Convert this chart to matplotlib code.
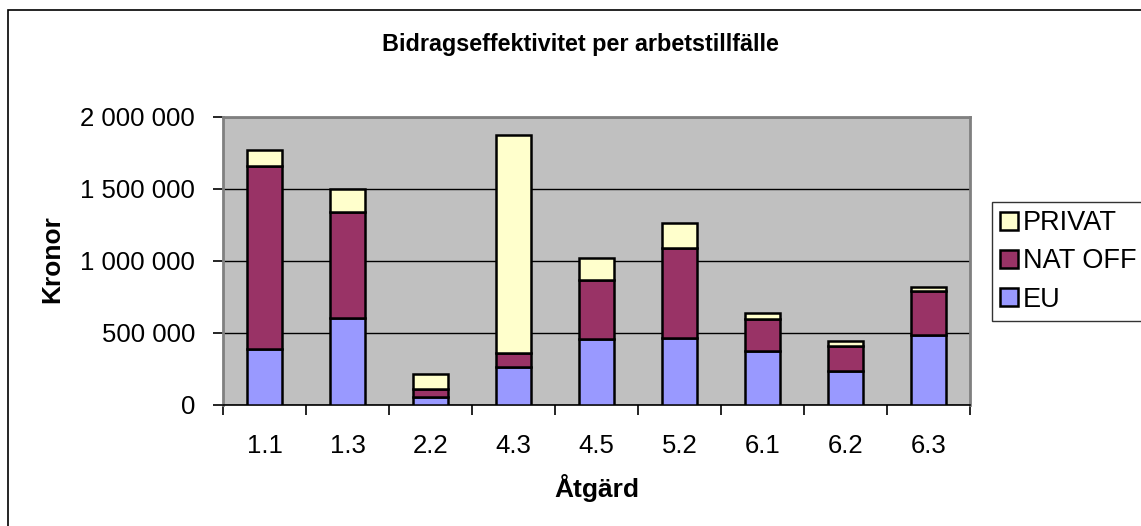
import numpy as np
import matplotlib.pyplot as plt
from matplotlib.patches import Rectangle

plt.rcParams['font.family'] = ['Liberation Sans', 'DejaVu Sans']

# Data
atgarder = ['1.1', '1.3', '2.2', '4.3', '4.5', '5.2', '6.1', '6.2', '6.3']
eu = [387000, 602000, 53000, 266000, 456000, 468000, 375000, 236000, 486000]
nat_off = [1275000, 740000, 56000, 93000, 412000, 620000, 220000, 174000, 306000]
privat = [108000, 156000, 106000, 1514000, 153000, 178000, 46000, 32000, 30000]

col_eu = '#9999FF'
col_nat = '#993366'
col_priv = '#FFFFCC'

W, H = 1141, 526
fig = plt.figure(figsize=(W / 100, H / 100), dpi=100)

# outer chart border
fig.patches.append(Rectangle((8 / W, -0.1), 1.2, 1 - 10 / H + 0.1,
                             transform=fig.transFigure, fill=False,
                             edgecolor='black', linewidth=1.2))

ax = fig.add_axes([223 / W, 1 - 405 / H, (970 - 223) / W, (405 - 117) / H])
ax.set_facecolor('#C0C0C0')

x = np.arange(len(atgarder))
w = 0.41
eu_arr = np.array(eu)
nat_arr = np.array(nat_off)
priv_arr = np.array(privat)

ax.bar(x, eu_arr, w, color=col_eu, edgecolor='black', linewidth=1.8, label='EU', zorder=3)
ax.bar(x, nat_arr, w, bottom=eu_arr, color=col_nat, edgecolor='black', linewidth=1.8,
       label='NAT OFF', zorder=3)
ax.bar(x, priv_arr, w, bottom=eu_arr + nat_arr, color=col_priv, edgecolor='black',
       linewidth=1.8, label='PRIVAT', zorder=3)

ax.set_xlim(-0.5, len(atgarder) - 0.5)
ax.set_ylim(0, 2000000)
yt = [0, 500000, 1000000, 1500000, 2000000]
ax.set_yticks(yt)
ax.set_yticklabels(['{:,}'.format(v).replace(',', ' ') for v in yt], fontsize=18.5)
ax.yaxis.grid(True, color='black', linewidth=1.0, zorder=1)
ax.set_axisbelow(True)

ax.set_xticks(x)
ax.set_xticklabels(atgarder, fontsize=18.5)
ax.set_xticks(np.arange(len(atgarder) + 1) - 0.5, minor=True)
ax.tick_params(axis='x', which='major', length=0, pad=21)
ax.tick_params(axis='x', which='minor', length=7, width=1.2, color='black')
ax.tick_params(axis='y', length=7, width=1.2, color='black', pad=13)

for side in ['left', 'top', 'right']:
    ax.spines[side].set_color('#808080')
    ax.spines[side].set_linewidth(2)
ax.spines['bottom'].set_color('black')
ax.spines['bottom'].set_linewidth(1.2)

fig.text(52 / W, 1 - 259 / H, 'Kronor', fontsize=19, fontweight='bold',
         rotation=90, ha='center', va='center')
fig.text(597 / W, 1 - 488 / H, 'Åtgärd', fontsize=19, fontweight='bold',
         ha='center', va='center')
fig.text(580 / W, 1 - 44 / H, 'Bidragseffektivitet per arbetstillfälle',
         fontsize=16.8, fontweight='bold', ha='center', va='center')

handles, labels = ax.get_legend_handles_labels()
leg = fig.legend(handles[::-1], labels[::-1], loc='upper left',
                 bbox_to_anchor=(992 / W, 1 - 202 / H), fontsize=19.5,
                 frameon=True, fancybox=False, edgecolor='black',
                 handlelength=0.65, handleheight=0.65, handletextpad=0.2,
                 labelspacing=0.45, borderpad=0.3, borderaxespad=0)
leg.get_frame().set_linewidth(1.0)

fig.savefig('out.png', dpi=100)
